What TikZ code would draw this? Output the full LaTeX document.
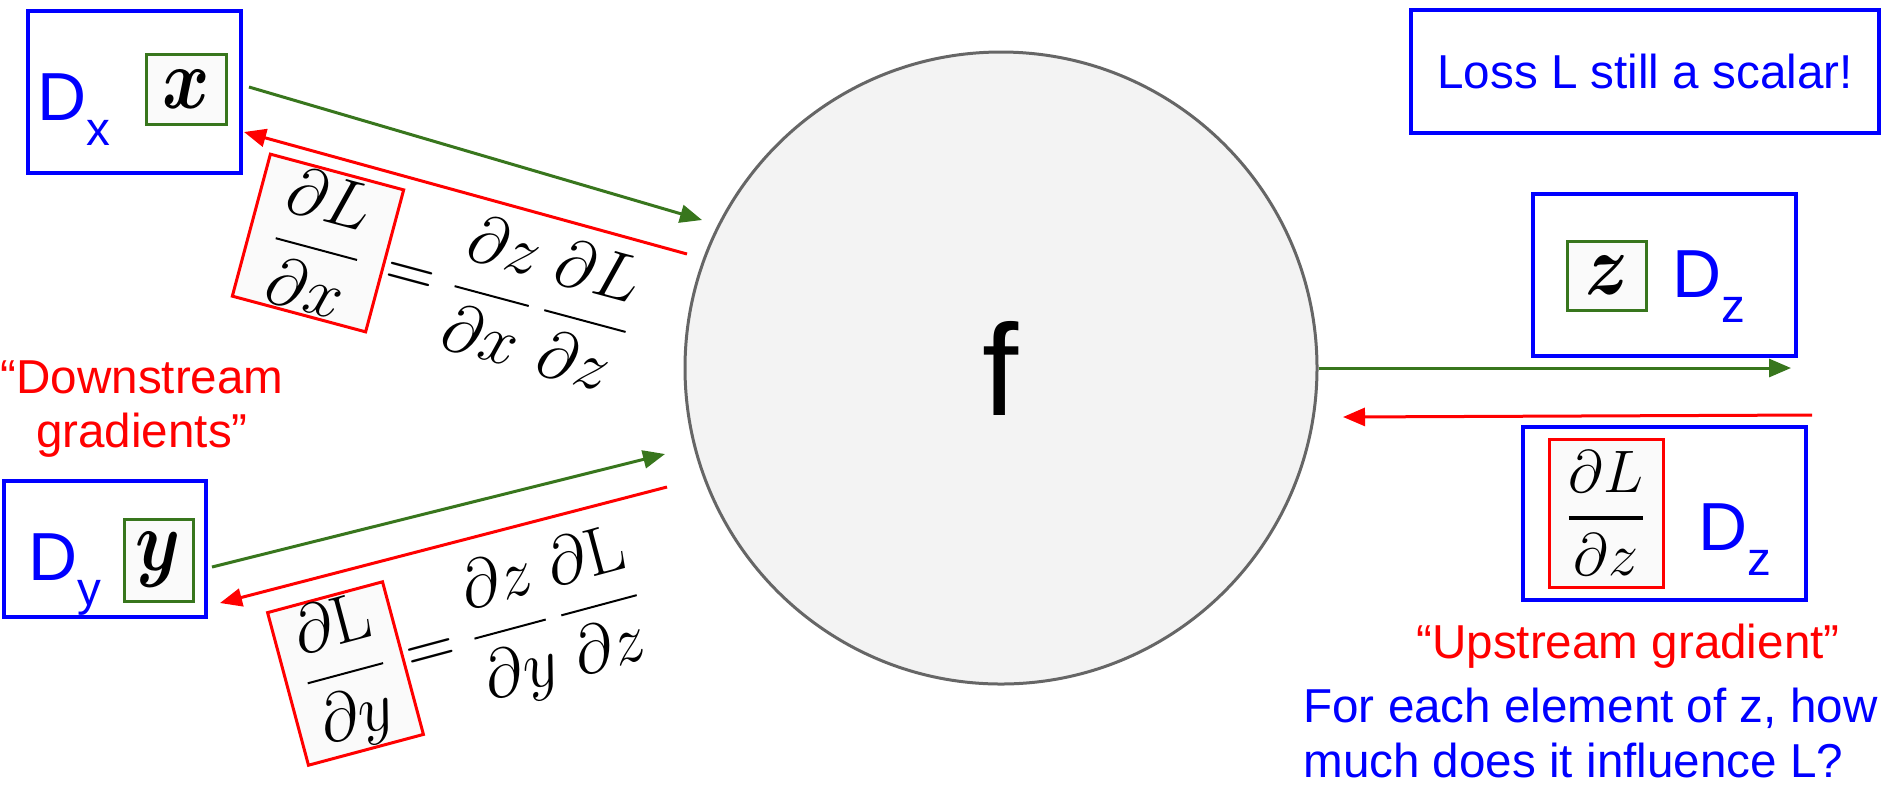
\RequirePackage{fix-cm}
\documentclass[tikz,border=0pt]{standalone}
\usepackage{amsmath}
\usepackage{graphicx}
\usepackage[no-math]{fontspec}
\setmainfont{Liberation Sans}
\usetikzlibrary{arrows.meta,calc}
\definecolor{dgreen}{HTML}{38761D}
\definecolor{cgray}{HTML}{F3F3F3}
\definecolor{sgray}{HTML}{666666}
\newcommand{\Dsub}[1]{{\fontsize{34}{34}\selectfont D}\raisebox{-12.5pt}{\fontsize{23.8}{24}\selectfont #1}}
\newcommand{\bigvar}[1]{\scalebox{1}[1.2]{\fontsize{36}{36}\selectfont$\boldsymbol{#1}$}}
\newcommand{\fml}{\fontsize{34}{34}\selectfont}
\begin{document}
\begin{tikzpicture}[x=0.5pt,y=-0.5pt,
  bluebox/.style={draw=blue, line width=2pt, inner sep=0pt},
  greenbox/.style={draw=dgreen, line width=1.5pt, fill=black!2, inner sep=0pt},
  redbox/.style={draw=red, line width=1.5pt, fill=black!2, inner sep=0pt},
  garrow/.style={draw=dgreen, line width=1.5pt, -{Triangle[length=11pt,width=9pt]}},
  rarrow/.style={draw=red, line width=1.5pt, -{Triangle[length=11pt,width=9pt]}},
  txt/.style={font=\fontsize{23.8}{28.5}\selectfont, inner sep=0pt},
  dlab/.style={blue, inner sep=0pt, anchor=base west}]
\fill[white] (0,0) rectangle (1888,784);
\useasboundingbox (0,0) rectangle (1888,784);

% central node
\node[circle, draw=sgray, fill=cgray, line width=1.5pt, minimum size=316pt, inner sep=0pt,
      font=\fontsize{65}{65}\selectfont] (f) at (1001,368) {f};

% left top: D_x
\node[bluebox, minimum width=106.5pt, minimum height=81pt] (dx) at (134.5,92) {};
\node[dlab] (dxl) at (37,120) {\Dsub{x}};
\node[greenbox, minimum width=40pt, minimum height=35pt] (xbox) at (186,89) {\bigvar{x}};

% left bottom: D_y
\node[bluebox, minimum width=101pt, minimum height=68pt] (dy) at (105,549) {};
\node[dlab] (dyl) at (28,580) {\Dsub{y}};
\node[greenbox, minimum width=34.5pt, minimum height=41pt] (ybox) at (158.5,560) {\bigvar{y}};

% right: Loss box
\node[bluebox, minimum width=234pt, minimum height=61.5pt, txt, blue] (loss) at (1645,71.5) {Loss L still a scalar!};

% right top: D_z with z
\node[bluebox, minimum width=131.5pt, minimum height=81pt] (dz1) at (1664.5,275) {};
\node[greenbox, minimum width=39.5pt, minimum height=34.5pt] (zbox) at (1606.5,275.5) {\bigvar{z}};
\node[dlab] (dz1l) at (1672,297) {\Dsub{z}};

% right bottom: D_z with dL/dz
\node[bluebox, minimum width=141.5pt, minimum height=86.5pt] (dz2) at (1664.5,513.5) {};
\node[redbox, minimum width=57pt, minimum height=74pt] (dlz) at (1606,513)
  {\fontsize{30}{30}\selectfont$\genfrac{}{}{2.2pt}{0}{\partial L}{\partial z}$};
\node[dlab] (dz2l) at (1698,550) {\Dsub{z}};

% formulas
\node[redbox, rotate=-15, minimum width=69pt, minimum height=73.5pt] (fx) at (318,243)
  {\fml$\displaystyle\frac{\partial L}{\partial x}$};
\node[rotate=-15, anchor=west, inner sep=1pt] (fxr) at (fx.east)
  {\fml$\displaystyle=\frac{\partial z}{\partial x}\,\frac{\partial L}{\partial z}$};
\node[redbox, rotate=15, minimum width=59.5pt, minimum height=79pt] (fy) at (345.5,673.5)
  {\fml$\displaystyle\frac{\partial \mathrm{L}}{\partial y}$};
\node[rotate=15, anchor=west, inner sep=1pt] (fyr) at (fy.east)
  {\fml$\displaystyle=\frac{\partial z}{\partial y}\,\frac{\partial \mathrm{L}}{\partial z}$};

% texts
\node[txt, red, anchor=base] (down1) at (142,393) {“Downstream};
\node[txt, red, anchor=base] (down2) at (142,447) {gradients”};
\node[txt, red, anchor=base] (up) at (1628,658) {“Upstream gradient”};
\node[txt, blue, anchor=base west] (for1) at (1303,722) {For each element of z, how};
\node[txt, blue, anchor=base west] (for2) at (1303,777) {much does it influence L?};

% arrow end points
\coordinate (gxin) at (702,220);
\coordinate (rxout) at (687,254);
\coordinate (gyin) at (665,454);
\coordinate (ryout) at (667,487);
\coordinate (gzend) at (1791,368);
\coordinate (rzin) at (1343,417);

\draw[garrow] ($(dx.east)+(6,-5)$) -- (gxin);
\draw[rarrow] (rxout) -- ($(dx.east)+(1,40)$);
\draw[garrow] ($(dy.east)+(4,18)$) -- (gyin);
\draw[rarrow] (ryout) -- ($(dy.east)+(12,54)$);
\draw[garrow] (f.east) -- (gzend);
\draw[rarrow] ($(dz2.north east)+(4,-10)$) -- (rzin);
\end{tikzpicture}
\end{document}
